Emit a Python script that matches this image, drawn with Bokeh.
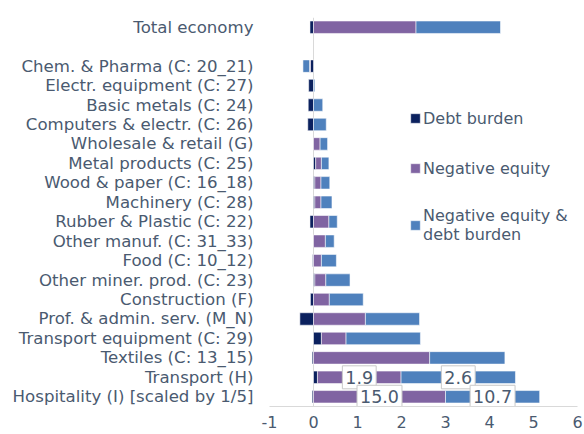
from bokeh.plotting import figure
from bokeh.models import FactorRange, Range1d, Span, Legend, LegendItem, ColumnDataSource, FixedTicker
from bokeh.embed import file_html
from bokeh.resources import INLINE
from bokeh.core.properties import value

# ---------------- data (top to bottom) ----------------
categories = [
    "Total economy",
    " ",
    "Chem. & Pharma (C: 20_21)",
    "Electr. equipment (C: 27)",
    "Basic metals (C: 24)",
    "Computers & electr. (C: 26)",
    "Wholesale & retail (G)",
    "Metal products (C: 25)",
    "Wood & paper (C: 16_18)",
    "Machinery (C: 28)",
    "Rubber & Plastic (C: 22)",
    "Other manuf. (C: 31_33)",
    "Food (C: 10_12)",
    "Other miner. prod. (C: 23)",
    "Construction (F)",
    "Prof. & admin. serv. (M_N)",
    "Transport equipment (C: 29)",
    "Textiles (C: 13_15)",
    "Transport (H)",
    "Hospitality (I) [scaled by 1/5]",
]
debt_burden = [-0.08, 0.0, -0.07, -0.11, -0.12, -0.13, 0.0, 0.05, 0.03, 0.03,
               -0.08, 0.0, -0.02, 0.03, -0.07, -0.31, 0.18, -0.03, 0.09, -0.03]
negative_equity = [2.33, 0.0, -0.02, 0.0, 0.0, 0.0, 0.15, 0.13, 0.14, 0.14,
                   0.35, 0.27, 0.18, 0.25, 0.36, 1.18, 0.56, 2.64, 1.90, 3.00]
neg_equity_and_debt = [1.92, 0.0, -0.15, 0.03, 0.21, 0.29, 0.17, 0.17, 0.20, 0.25,
                       0.19, 0.20, 0.34, 0.55, 0.77, 1.23, 1.69, 1.71, 2.60, 2.14]
series_names = ["Debt burden", "Negative equity", "Negative equity &\ndebt burden"]
series_colors = ["#0b215e", "#8064a2", "#4f81bd"]
x_ticks = [-1, 0, 1, 2, 3, 4, 5, 6]

# value boxes (category, series index, text)
label_categories = ["Transport (H)", "Transport (H)",
                    "Hospitality (I) [scaled by 1/5]", "Hospitality (I) [scaled by 1/5]"]
label_series = [1, 2, 1, 2]
label_texts = ["1.9", "2.6", "15.0", "10.7"]

TEXT = "#4a5a70"
FONT = "DejaVu Sans"

# ---------------- stacking ----------------
series = [debt_burden, negative_equity, neg_equity_and_debt]
n = len(categories)
pos = [0.0] * n
neg = [0.0] * n
stacks = []
for vals in series:
    lefts, rights = [], []
    for i, v in enumerate(vals):
        if v >= 0:
            l, r = pos[i], pos[i] + v
            pos[i] += v
        else:
            l, r = neg[i] + v, neg[i]
            neg[i] += v
        if v == 0:
            l, r = float("nan"), float("nan")
        lefts.append(l)
        rights.append(r)
    stacks.append((lefts, rights))

p = figure(
    width=584, height=434,
    y_range=FactorRange(factors=list(reversed(categories)), range_padding=0),
    x_range=Range1d(-1, 6),
    output_backend="svg", toolbar_location=None,
    min_border_left=269, min_border_right=7, min_border_top=17, min_border_bottom=28,
)
p.outline_line_color = None
p.xgrid.visible = False
p.ygrid.visible = False

p.add_layout(Span(location=0, dimension="height", line_color="#d9d9d9",
                  line_width=1, level="underlay"))

renderers = []
for (lefts, rights), color in zip(stacks, series_colors):
    src = ColumnDataSource(dict(y=categories, left=lefts, right=rights))
    r = p.hbar(y="y", left="left", right="right", height=0.64, source=src,
               fill_color=color, line_color="white", line_alpha=0.55, line_width=1)
    renderers.append(r)

# value boxes at segment centres
lx, ly = [], []
for cat, s in zip(label_categories, label_series):
    i = categories.index(cat)
    lefts, rights = stacks[s]
    lx.append((lefts[i] + rights[i]) / 2)
    ly.append(cat)
p.text(x=lx, y=ly, text=label_texts, text_align="center", text_baseline="middle",
       text_font=value(FONT), text_font_size="17.5px", text_color=TEXT,
       background_fill_color="white", border_line_color="#c8c8c8",
       border_line_width=1, padding=(3, 5))

# axes
xa = p.xaxis[0]
xa.ticker = FixedTicker(ticks=x_ticks)
xa.major_label_overrides = {-1: "-1"}
xa.axis_line_color = "#d9d9d9"
xa.major_tick_line_color = None
xa.minor_tick_line_color = None
xa.major_tick_out = 0
xa.major_tick_in = 0
xa.major_label_standoff = 9
xa.major_label_text_font = FONT
xa.major_label_text_font_size = "16px"
xa.major_label_text_color = TEXT

ya = p.yaxis[0]
ya.axis_line_color = None
ya.major_tick_line_color = None
ya.minor_tick_line_color = None
ya.major_tick_out = 0
ya.major_tick_in = 0
ya.major_label_standoff = 16
ya.major_label_text_font = FONT
ya.major_label_text_font_size = "16.6px"
ya.major_label_text_color = TEXT

# legends (one per item, placed individually)
legend_y = [278, 228, 162]
for r, name, ypos in zip(renderers, series_names, legend_y):
    lg = Legend(items=[LegendItem(label=name, renderers=[r])], location=(140, ypos),
                orientation="vertical", glyph_width=12, glyph_height=12,
                label_standoff=2, label_height=20, padding=0, margin=0, spacing=0,
                background_fill_alpha=0, border_line_alpha=0,
                label_text_font=FONT, label_text_font_size="16px",
                label_text_color=TEXT)
    p.add_layout(lg)

open("out.html", "w").write(file_html(p, INLINE))
